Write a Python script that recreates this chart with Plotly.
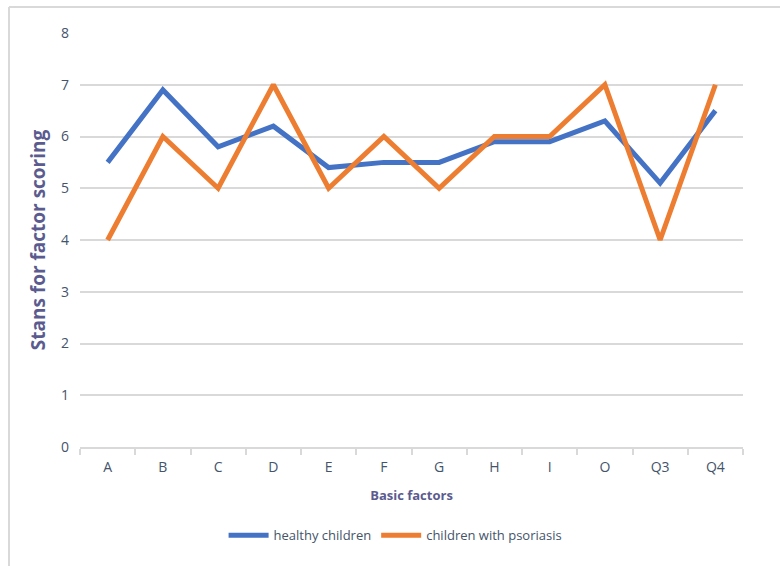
import plotly.graph_objects as go

categories = ["A", "B", "C", "D", "E", "F", "G", "H", "I", "O", "Q3", "Q4"]
healthy = [5.5, 6.9, 5.8, 6.2, 5.4, 5.5, 5.5, 5.9, 5.9, 6.3, 5.1, 6.5]
psoriasis = [4, 6, 5, 7, 5, 6, 5, 6, 6, 7, 4, 7]
y_ticks = [0, 1, 2, 3, 4, 5, 6, 7, 8]

W, H = 780, 566
L, R, T, B = 80, 37, 33, 119

fig = go.Figure()
fig.add_trace(go.Scatter(x=categories, y=healthy, mode="lines", name="healthy children",
                         line=dict(color="#4472C4", width=5)))
fig.add_trace(go.Scatter(x=categories, y=psoriasis, mode="lines", name="children with psoriasis",
                         line=dict(color="#ED7D31", width=5)))

tick_font = dict(family="Open Sans, Lato, sans-serif", size=14, color="#44546A")
title_color = "#5B5B8F"

fig.update_layout(
    width=W, height=H,
    margin=dict(l=L, r=R, t=T, b=B),
    paper_bgcolor="white", plot_bgcolor="white",
    showlegend=True,
    legend=dict(orientation="h", x=0.476, xanchor="center", y=-0.213, yanchor="middle",
                font=dict(family="Open Sans, Lato, sans-serif", size=13, color="#44546A"),
                itemwidth=40, tracegroupgap=0),
    xaxis=dict(
        type="category", categoryorder="array", categoryarray=categories,
        range=[-0.5, len(categories) - 0.5],
        showgrid=False, zeroline=False,
        showline=True, linecolor="#D9D9D9", linewidth=2,
        ticks="outside", tickson="boundaries", ticklen=6, tickcolor="#D9D9D9", tickwidth=2,
        tickfont=tick_font, ticklabelstandoff=6,
        title=dict(text="<b>Basic factors</b>", font=dict(family="Open Sans, Lato, sans-serif", size=13, color=title_color), standoff=16),
    ),
    yaxis=dict(
        range=[0, 8], tickvals=y_ticks,
        showgrid=True, gridcolor="#D9D9D9", gridwidth=2,
        zeroline=False, showline=False,
        tickfont=tick_font, ticks="", ticklabelstandoff=10,
        title=dict(text="<b>Stans for factor scoring</b>", font=dict(family="Open Sans, Lato, sans-serif", size=19, color=title_color), standoff=10),
    ),
    shapes=[
        dict(type="line", xref="paper", yref="paper",
             x0=(9 - L) / (W - L - R), x1=(W - L) / (W - L - R),
             y0=(H - B - 7) / (H - T - B), y1=(H - B - 7) / (H - T - B),
             line=dict(color="#D9D9D9", width=2)),
        dict(type="line", xref="paper", yref="paper",
             x0=(9 - L) / (W - L - R), x1=(9 - L) / (W - L - R),
             y0=(H - B - 7) / (H - T - B), y1=-B / (H - T - B),
             line=dict(color="#D9D9D9", width=2)),
    ],
)

fig.write_html("out.html")
